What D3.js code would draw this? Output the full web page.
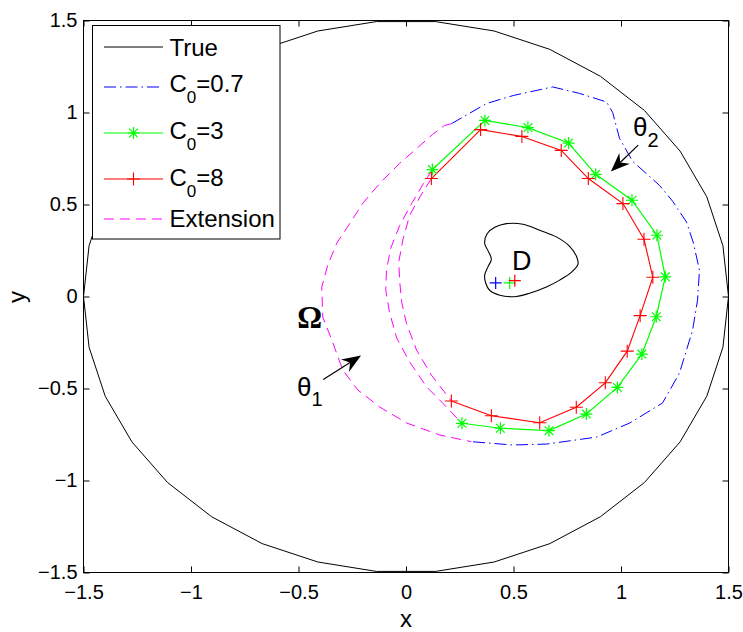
<!DOCTYPE html>
<html><head><meta charset="utf-8">
<script src="https://cdn.jsdelivr.net/npm/d3@7"></script>
<style>body{margin:0;background:#fff}svg{display:block}</style>
</head><body>
<svg id="c" width="743" height="632"></svg>
<script>
// ---------- data ----------
const trueX = [1.5,1.474,1.399,1.275,1.109,0.904,0.669,0.410,0.138,-0.138,-0.410,-0.669,-0.904,-1.109,-1.275,-1.399,-1.474,-1.5,-1.474,-1.399,-1.275,-1.109,-0.904,-0.669,-0.410,-0.138,0.138,0.410,0.669,0.904,1.109,1.275,1.399,1.474];
const trueY = [0,0.276,0.542,0.790,1.011,1.197,1.343,1.443,1.494,1.494,1.443,1.343,1.197,1.011,0.790,0.542,0.276,0,-0.276,-0.542,-0.790,-1.011,-1.197,-1.343,-1.443,-1.494,-1.494,-1.443,-1.343,-1.197,-1.011,-0.790,-0.542,-0.276];

const dX = [0.467,0.544,0.622,0.699,0.761,0.794,0.800,0.770,0.715,0.653,0.575,0.513,0.436,0.389,0.371,0.366,0.381,0.397,0.380,0.366,0.378,0.413];
const dY = [0.396,0.393,0.360,0.324,0.273,0.215,0.176,0.132,0.089,0.052,0.018,0.000,0.007,0.034,0.072,0.116,0.161,0.203,0.252,0.288,0.342,0.376];

const b07X = [0.211,0.375,0.501,0.682,0.807,0.933,0.961,0.993,1.054,1.179,1.240,1.305,1.337,1.365,1.356,1.333,1.272,1.193,1.040,0.887,0.654,0.496,0.304];
const b07Y = [0.939,1.049,1.093,1.139,1.104,1.057,1.001,0.860,0.735,0.604,0.518,0.404,0.290,0.143,-0.020,-0.183,-0.416,-0.579,-0.688,-0.764,-0.802,-0.807,-0.789];

const g3X = [0.123,0.367,0.567,0.756,0.882,1.051,1.167,1.206,1.164,1.097,0.983,0.839,0.665,0.439,0.260];
const g3Y = [0.690,0.957,0.918,0.834,0.664,0.523,0.333,0.107,-0.110,-0.313,-0.494,-0.639,-0.729,-0.716,-0.689];

const r8X = [0.118,0.347,0.539,0.722,0.848,1.009,1.107,1.148,1.089,1.029,0.927,0.792,0.622,0.397,0.211];
const r8Y = [0.641,0.907,0.870,0.794,0.641,0.505,0.311,0.105,-0.104,-0.297,-0.469,-0.602,-0.686,-0.648,-0.568];

const extOuterX = [0.211,0.180,0.124,0.050,-0.029,-0.122,-0.201,-0.261,-0.322,-0.364,-0.392,-0.387,-0.345,-0.294,-0.224,-0.122,0.004,0.157,0.304];
const extOuterY = [0.939,0.930,0.881,0.805,0.724,0.615,0.507,0.398,0.290,0.170,0.051,-0.112,-0.237,-0.400,-0.508,-0.601,-0.688,-0.753,-0.789];

const extGreenX = [0.123,0.082,0.027,-0.029,-0.071,-0.091,-0.094,-0.076,-0.043,0.017,0.095,0.172,0.260];
const extGreenY = [0.690,0.615,0.507,0.387,0.262,0.143,0.034,-0.090,-0.226,-0.356,-0.490,-0.581,-0.689];

const extRedX = [0.118,0.069,0.017,-0.015,-0.034,-0.029,-0.020,0.002,0.049,0.118,0.211];
const extRedY = [0.641,0.550,0.442,0.306,0.186,0.078,-0.031,-0.146,-0.291,-0.427,-0.568];

// source-point estimates inside D (C0=0.7, 3, 8)
const srcX = [0.417,0.482,0.506];
const srcY = [0.074,0.074,0.086];

const xTicks = [-1.5,-1,-0.5,0,0.5,1,1.5];
const xTickLabels = ['\u22121.5','\u22121','\u22120.5','0','0.5','1','1.5'];
const yTicks = [-1.5,-1,-0.5,0,0.5,1,1.5];
const yTickLabels = ['\u22121.5','\u22121','\u22120.5','0','0.5','1','1.5'];

const legendLabels = [['True',''],['C','0','=0.7'],['C','0','=3'],['C','0','=8'],['Extension','']];

// annotation anchors (data units)
const arrowTheta2 = [[1.080,0.823],[0.953,0.679]];
const arrowTheta1 = [[-0.385,-0.451],[-0.209,-0.321]];

// ---------- drawing ----------
const svg = d3.select('#c');
const FONT = '"Liberation Sans", Arial, Helvetica, sans-serif';
const x = d3.scaleLinear().domain([-1.5,1.5]).range([83.5,728.5]);
const y = d3.scaleLinear().domain([-1.5,1.5]).range([572.5,20.5]);
const zip = (a,b) => a.map((v,i)=>[v,b[i]]);
const line = d3.line().x(d=>x(d[0])).y(d=>y(d[1]));

svg.append('rect').attr('width',743).attr('height',632).attr('fill','#fff');

const plot = svg.append('g');
plot.append('path').attr('d', d3.line().x(d=>x(d[0])).y(d=>y(d[1])).curve(d3.curveLinearClosed)(zip(trueX,trueY)))
  .attr('fill','none').attr('stroke','#000').attr('stroke-width',1);
plot.append('path').attr('d', d3.line().x(d=>x(d[0])).y(d=>y(d[1])).curve(d3.curveCatmullRomClosed)(zip(dX,dY)))
  .attr('fill','none').attr('stroke','#000').attr('stroke-width',1.1);

const MAG = '#ff00ff';
[[extOuterX,extOuterY],[extGreenX,extGreenY],[extRedX,extRedY]].forEach(([a,b])=>{
  plot.append('path').attr('d', line(zip(a,b))).attr('fill','none')
    .attr('stroke',MAG).attr('stroke-width',1).attr('stroke-dasharray','10 6');
});
plot.append('path').attr('d', line(zip(b07X,b07Y))).attr('fill','none')
  .attr('stroke','#0000ff').attr('stroke-width',1).attr('stroke-dasharray','12 4 1.5 4');
plot.append('path').attr('d', line(zip(g3X,g3Y))).attr('fill','none')
  .attr('stroke','#00ff00').attr('stroke-width',1.2);
plot.append('path').attr('d', line(zip(r8X,r8Y))).attr('fill','none')
  .attr('stroke','#ff0000').attr('stroke-width',1.1);

function plusPath(cx,cy,r){return `M${cx-r},${cy}H${cx+r}M${cx},${cy-r}V${cy+r}`;}
function starPath(cx,cy,r){const d=r*0.72;return plusPath(cx,cy,r)+`M${cx-d},${cy-d}L${cx+d},${cy+d}M${cx-d},${cy+d}L${cx+d},${cy-d}`;}

plot.append('g').selectAll('path').data(zip(g3X,g3Y)).join('path')
  .attr('d',d=>starPath(x(d[0]),y(d[1]),6)).attr('stroke','#00ff00').attr('stroke-width',1.2).attr('fill','none');
plot.append('g').selectAll('path').data(zip(r8X,r8Y)).join('path')
  .attr('d',d=>plusPath(x(d[0]),y(d[1]),6.5)).attr('stroke','#ff0000').attr('stroke-width',1.1).attr('fill','none');
const srcColors = ['#0000ff','#00ff00','#ff0000'];
plot.append('g').selectAll('path').data(zip(srcX,srcY)).join('path')
  .attr('d',d=>plusPath(x(d[0]),y(d[1]),6)).attr('stroke',(d,i)=>srcColors[i]).attr('stroke-width',1.2).attr('fill','none');

function styleAxis(g){g.select('.domain').remove();g.selectAll('text').attr('font-size',20).attr('font-family',FONT).attr('fill','#000');g.selectAll('line').attr('stroke','#000');}
svg.append('g').attr('transform','translate(0,572.5)')
  .call(d3.axisBottom(x).tickValues(xTicks).tickFormat((d,i)=>xTickLabels[i]).tickSizeInner(-6).tickSizeOuter(0).tickPadding(12)).call(styleAxis);
svg.append('g').attr('transform','translate(0,20.5)')
  .call(d3.axisTop(x).tickValues(xTicks).tickFormat('').tickSizeInner(-6).tickSizeOuter(0)).call(styleAxis);
svg.append('g').attr('transform','translate(83.5,0)')
  .call(d3.axisLeft(y).tickValues(yTicks).tickFormat((d,i)=>yTickLabels[i]).tickSizeInner(-6).tickSizeOuter(0).tickPadding(6)).call(styleAxis);
svg.append('g').attr('transform','translate(728.5,0)')
  .call(d3.axisRight(y).tickValues(yTicks).tickFormat('').tickSizeInner(-6).tickSizeOuter(0)).call(styleAxis);
svg.append('rect').attr('x',83.5).attr('y',20.5).attr('width',645).attr('height',552)
  .attr('fill','none').attr('stroke','#000').attr('stroke-width',1);

svg.append('text').attr('x',406).attr('y',627).attr('text-anchor','middle')
  .attr('font-family',FONT).attr('font-size',24).text('x');
svg.append('text').attr('transform','translate(25,297) rotate(-90)').attr('text-anchor','middle')
  .attr('font-family',FONT).attr('font-size',24).text('y');

function subText(px,py,main,sub,size,subSize,dy,family){
  const t = svg.append('text').attr('x',px).attr('y',py).attr('font-family',family||FONT).attr('font-size',size);
  t.append('tspan').text(main);
  t.append('tspan').attr('font-size',subSize).attr('dy',dy).text(sub);
  return t;
}
svg.append('text').attr('x',512).attr('y',270).attr('font-family',FONT).attr('font-size',27).text('D');
svg.append('text').attr('x',309.7).attr('y',327.5).attr('text-anchor','middle')
  .attr('font-family','"Liberation Serif", "Times New Roman", serif').attr('font-size',31)
  .attr('font-weight','bold').text('\u03A9');
subText(297,396,'\u03B8','1',26,20,10);
subText(633,136,'\u03B8','2',26,20,11);

function arrow(p){
  const x1=x(p[0][0]), y1=y(p[0][1]), x2=x(p[1][0]), y2=y(p[1][1]);
  const dx=x2-x1, dy=y2-y1, L=Math.hypot(dx,dy), ux=dx/L, uy=dy/L, nx=-uy, ny=ux;
  const H=19, W=7.5, N=6;
  svg.append('line').attr('x1',x1).attr('y1',y1).attr('x2',x2-(H-N)*ux).attr('y2',y2-(H-N)*uy)
    .attr('stroke','#000').attr('stroke-width',1.2);
  const pts=[[x2,y2],[x2-H*ux+W*nx,y2-H*uy+W*ny],[x2-(H-N)*ux,y2-(H-N)*uy],[x2-H*ux-W*nx,y2-H*uy-W*ny]];
  svg.append('path').attr('d','M'+pts.map(q=>q.join(',')).join('L')+'Z').attr('fill','#000');
}
arrow(arrowTheta2);
arrow(arrowTheta1);

const lg = svg.append('g');
lg.append('rect').attr('x',92.5).attr('y',25.5).attr('width',187.5).attr('height',213.5)
  .attr('fill','#fff').attr('stroke','#000').attr('stroke-width',1);
const rowLineY = [47,87,133,179,219];
const rowBase = [56,92,139,186,227];
const rowStyles = [
  {c:'#000',dash:null,m:null,w:1},
  {c:'#0000ff',dash:'12 4 1.5 4',m:null,w:1},
  {c:'#00ff00',dash:null,m:'star',w:1.2},
  {c:'#ff0000',dash:null,m:'plus',w:1.1},
  {c:MAG,dash:'10 6',m:null,w:1}
];
legendLabels.forEach((lab,i)=>{
  const s = rowStyles[i], ly = rowLineY[i];
  const l = lg.append('line').attr('x1',104).attr('x2',163).attr('y1',ly).attr('y2',ly)
    .attr('stroke',s.c).attr('stroke-width',s.w);
  if(s.dash) l.attr('stroke-dasharray',s.dash);
  if(s.m==='star') lg.append('path').attr('d',starPath(133.5,ly,6)).attr('stroke',s.c).attr('stroke-width',1.2).attr('fill','none');
  if(s.m==='plus') lg.append('path').attr('d',plusPath(133.5,ly,6.5)).attr('stroke',s.c).attr('stroke-width',1.1).attr('fill','none');
  const t = lg.append('text').attr('x',169.5).attr('y',rowBase[i]).attr('font-family',FONT).attr('font-size',24);
  if(lab.length===2){ t.text(lab[0]); }
  else {
    t.append('tspan').text(lab[0]);
    t.append('tspan').attr('font-size',17).attr('dy',11).text(lab[1]);
    t.append('tspan').attr('dy',-11).text(lab[2]);
  }
});
</script>
</body></html>
